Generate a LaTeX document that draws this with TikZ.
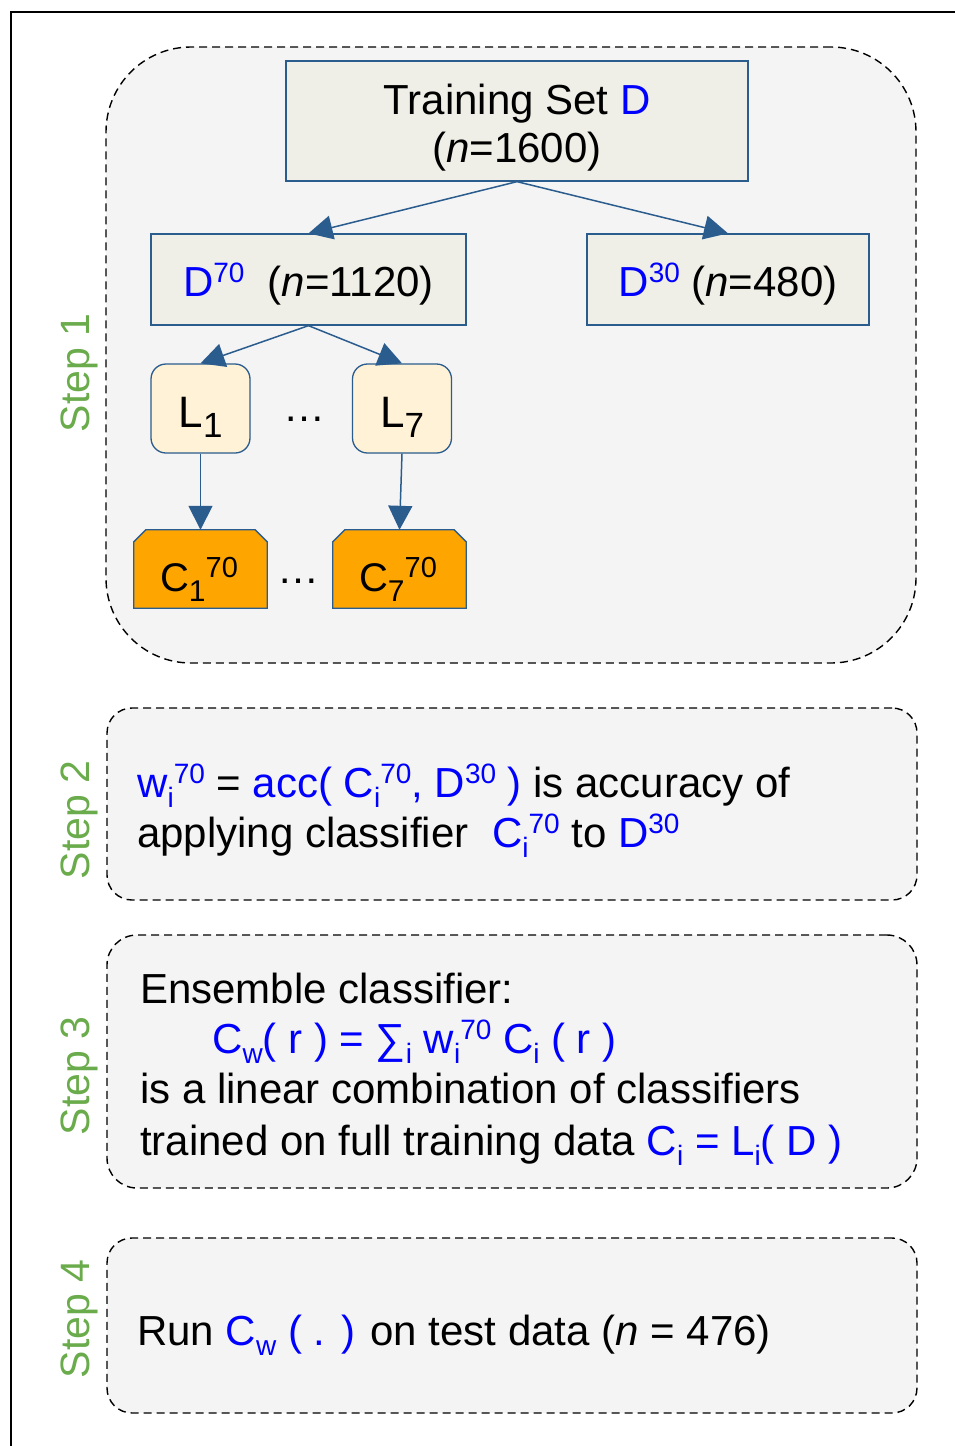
\documentclass[tikz,border=0pt]{standalone}
\usepackage{fontspec}
\setmainfont{Liberation Sans}
\usetikzlibrary{arrows.meta}
\definecolor{edge}{HTML}{2B5C8E}
\definecolor{boxfill}{HTML}{EFEFE7}
\definecolor{lfill}{HTML}{FFF2D6}
\definecolor{cfill}{HTML}{FFA500}
\definecolor{stepfill}{HTML}{F4F4F4}
\definecolor{stepgreen}{HTML}{6AAB4B}
\definecolor{tblue}{HTML}{0000FF}
\newcommand\myup[1]{\raisebox{14pt}{\fontsize{28}{28}\selectfont #1}}
\newcommand\mydn[1]{\raisebox{-10pt}{\fontsize{28}{28}\selectfont #1}}
\newcommand\mydnL[1]{\raisebox{-10pt}{\fontsize{35}{35}\selectfont #1}}
\newcommand\myud[2]{\mydn{#1}\myup{#2}}
\newcommand\myudC[2]{\raisebox{-10pt}{\fontsize{30}{30}\selectfont #1}\raisebox{14pt}{\fontsize{29}{29}\selectfont #2}}
\newcommand\bl[1]{\textcolor{tblue}{#1}}
\begin{document}
\begin{tikzpicture}[x=1pt,y=-1pt,
  every node/.style={font=\fontsize{42}{48}\selectfont, inner sep=0pt},
  stepbox/.style={draw=black, dash pattern=on 8pt off 5pt, line width=1.4pt, fill=stepfill, minimum width=810pt},
  databox/.style={draw=edge, line width=1.3pt, fill=boxfill},
  lbox/.style={draw=edge, line width=1.3pt, fill=lfill, rounded corners=15pt, minimum width=99pt, minimum height=89pt, font=\fontsize{44}{44}\selectfont, text height=37pt, text depth=0pt},
  cshape/.style={draw=edge, line width=1.3pt, fill=cfill},
  cnode/.style={minimum width=133pt, minimum height=78pt},
  conn/.style={draw=edge, line width=1.5pt, -{Triangle[length=24pt,width=24pt]}},
  steplabel/.style={text=stepgreen, rotate=90, anchor=base, font=\fontsize{41}{41}\selectfont},
  txt/.style={anchor=base west}
]
\useasboundingbox (0,0) rectangle (954,1446);
\draw[line width=1.5pt] (11,1450) -- (11,12) -- (960,12);

% step boxes
\node[stepbox, rounded corners=85pt, minimum height=616pt] (s1) at (511,355) {};
\node[stepbox, rounded corners=25pt, minimum height=192pt] (s2) at (512,804) {};
\node[stepbox, rounded corners=30pt, minimum height=253pt] (s3) at (512,1061.5) {};
\node[stepbox, rounded corners=25pt, minimum height=175pt] (s4) at (512,1325.5) {};

% step labels
\node[steplabel] (lab1) at (89,373) {Step 1};
\node[steplabel] (lab2) at (89,820) {Step 2};
\node[steplabel] (lab3) at (89,1076) {Step 3};
\node[steplabel] (lab4) at (89,1319) {Step 4};

% step 1 content
\node[databox, minimum width=462pt, minimum height=120pt] (train) at (517,121) {};
\node[anchor=base] (tr1) at (517,114) {Training Set \bl{D}};
\node[anchor=base] (tr2) at (517,162) {(\textit{n}=1600)};
\node[databox, minimum width=315pt, minimum height=91pt, text height=34pt, text depth=0pt] (d70) at (308.5,279.5)
  {\bl{D\myup{70}}\ \ (\textit{n}=1120)};
\node[databox, minimum width=282pt, minimum height=91pt, text height=34pt, text depth=0pt] (d30) at (728,279.5)
  {\bl{D\myup{30}} (\textit{n}=480)};
\node[lbox] (l1) at (200.5,408.5) {L\mydnL{1}};
\node[lbox] (l7) at (402,408.5) {L\mydnL{7}};
\node[anchor=base] (dots1) at (304,421) {\ldots};

\node[cnode] (c1) at (200.5,569) {};
\node[cnode] (c7) at (399.5,569) {};
\foreach \n in {c1,c7}{
  \filldraw[cshape] (\n.south west) -- ([shift={(0,12)}]\n.north west) -- ([shift={(12,0)}]\n.north west)
    -- ([shift={(-12,0)}]\n.north east) -- ([shift={(0,12)}]\n.north east) -- (\n.south east) -- cycle;
}
\node[anchor=base, font=\fontsize{40}{40}\selectfont] (c1t) at (199,591) {C\myudC{1}{70}};
\node[anchor=base, font=\fontsize{40}{40}\selectfont] (c7t) at (398,591) {C\myudC{7}{70}};
\node[anchor=base] (dots2) at (298,583) {\ldots};

% connectors
\draw[conn] (train.south) -- (d70.north);
\draw[conn] (train.south) -- (d30.north);
\draw[conn] (d70.south) -- (l1.north);
\draw[conn] (d70.south) -- (l7.north);
\draw[conn] (l1.south) -- (c1.north);
\draw[conn] (l7.south) -- (c7.north);

% step 2
\node[txt] (s2a) at (137,797) {\bl{w\myud{i}{70}} = \bl{acc( C\myud{i}{70}, D\myup{30} )} is accuracy of};
\node[txt] (s2b) at (137,847) {applying classifier \ \bl{C\myud{i}{70}} to \bl{D\myup{30}}};

% step 3
\node[txt] (s3a) at (140,1003) {Ensemble classifier:};
\node[txt] (s3b) at (212,1053) {\bl{C\mydn{w}( r ) = ∑\mydn{i} w\myud{i}{70} C\mydn{i} ( r )}};
\node[txt] (s3c) at (140,1103) {is a linear combination of classifiers};
\node[txt] (s3d) at (140,1155) {trained on full training data \bl{C\mydn{i} = L\mydn{i}( D )}};

% step 4
\node[txt] (s4a) at (137,1345) {Run \bl{C\mydn{w} ( . )} on test data (\textit{n} = 476)};
\end{tikzpicture}
\end{document}
